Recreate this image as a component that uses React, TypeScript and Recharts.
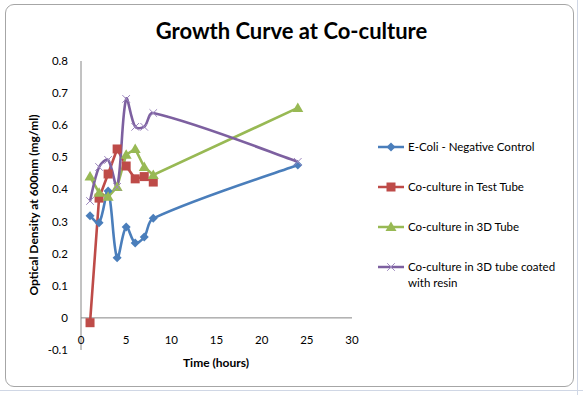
import React from "react";
import { Line, LineChart, ReferenceLine, XAxis, YAxis } from "recharts";

// values
const hours = [1, 2, 3, 4, 5, 6, 7, 8, 24];
const eColi = [0.318, 0.296, 0.395, 0.187, 0.283, 0.233, 0.252, 0.31, 0.476];
const testTube = [-0.015, 0.373, 0.448, 0.526, 0.473, 0.433, 0.44, 0.423];
const tube3d = [0.44, 0.39, 0.377, 0.408, 0.508, 0.526, 0.47, 0.445, 0.654];
const resinTube = [0.364, 0.47, 0.492, 0.408, 0.682, 0.595, 0.595, 0.638, 0.486];

const xTicks = [0, 5, 10, 15, 20, 25, 30];
const yTicks = [-0.1, 0, 0.1, 0.2, 0.3, 0.4, 0.5, 0.6, 0.7, 0.8];

const FONT = "Lato, 'Open Sans', sans-serif";

type Shape = "diamond" | "square" | "triangle" | "cross";

const series: {
  name: string;
  values: number[];
  color: string;
  shape: Shape;
  smooth: boolean;
}[] = [
  { name: "E-Coli - Negative Control", values: eColi, color: "#4A7EBB", shape: "diamond", smooth: true },
  { name: "Co-culture in Test Tube", values: testTube, color: "#BE4B48", shape: "square", smooth: false },
  { name: "Co-culture in 3D Tube", values: tube3d, color: "#98B954", shape: "triangle", smooth: false },
  { name: "Co-culture in 3D tube coated with resin", values: resinTube, color: "#7D60A0", shape: "cross", smooth: true },
];

const toRows = (values: number[]) => values.map((v, i) => ({ x: hours[i], y: v }));

// Excel-like smoothing: bezier whose tangents are weighted by chord length (no loops)
function excelSmooth(context: any) {
  let pts: [number, number][] = [];
  const dist = (a: [number, number], b: [number, number]) => Math.hypot(b[0] - a[0], b[1] - a[1]);
  return {
    areaStart() {},
    areaEnd() {},
    lineStart() {
      pts = [];
    },
    point(x: number, y: number) {
      pts.push([+x, +y]);
    },
    lineEnd() {
      if (!pts.length) return;
      context.moveTo(pts[0][0], pts[0][1]);
      for (let i = 0; i < pts.length - 1; i++) {
        const p0 = pts[i - 1] || pts[i];
        const p1 = pts[i];
        const p2 = pts[i + 1];
        const p3 = pts[i + 2] || p2;
        const d01 = dist(p0, p1);
        const d12 = dist(p1, p2);
        const d23 = dist(p2, p3);
        const k1 = d01 + d12 > 0 ? d12 / (d01 + d12) / 3 : 0;
        const k2 = d12 + d23 > 0 ? d12 / (d12 + d23) / 3 : 0;
        const s1 = p0 === p1 ? 2 : 1;
        const s2 = p3 === p2 ? 2 : 1;
        context.bezierCurveTo(
          p1[0] + (p2[0] - p0[0]) * k1 * (s1 === 2 ? 0.5 : 1),
          p1[1] + (p2[1] - p0[1]) * k1 * (s1 === 2 ? 0.5 : 1),
          p2[0] - (p3[0] - p1[0]) * k2 * (s2 === 2 ? 0.5 : 1),
          p2[1] - (p3[1] - p1[1]) * k2 * (s2 === 2 ? 0.5 : 1),
          p2[0],
          p2[1]
        );
      }
    },
  };
}

function Marker({ cx, cy, shape, color }: { cx: number; cy: number; shape: Shape; color: string }) {
  if (cx == null || cy == null) return null;
  if (shape === "diamond") {
    const r = 4.5;
    return <polygon points={`${cx},${cy - r} ${cx + r},${cy} ${cx},${cy + r} ${cx - r},${cy}`} fill={color} />;
  }
  if (shape === "square") {
    return <rect x={cx - 4.5} y={cy - 4.5} width={9} height={9} fill={color} />;
  }
  if (shape === "triangle") {
    return <polygon points={`${cx},${cy - 5.5} ${cx + 5.5},${cy + 4} ${cx - 5.5},${cy + 4}`} fill={color} />;
  }
  const r = 3.8;
  return (
    <g stroke="#9c86bd" strokeWidth={1}>
      <line x1={cx - r} y1={cy - r} x2={cx + r} y2={cy + r} />
      <line x1={cx - r} y1={cy + r} x2={cx + r} y2={cy - r} />
    </g>
  );
}

function XTick({ x, y, payload }: any) {
  return (
    <text x={x} y={y - 6} textAnchor="middle" fontSize={11.5} fontFamily={FONT} fill="#000">
      {payload.value}
    </text>
  );
}

function YTick({ x, y, payload }: any) {
  const v = payload.value;
  const label = Math.abs(v) < 1e-9 ? "0" : v.toFixed(1);
  return (
    <text x={x - 13} y={y + 4} textAnchor="end" fontSize={11.5} fontFamily={FONT} fill="#000">
      {label}
    </text>
  );
}

function LegendBox() {
  return (
    <div
      style={{
        position: "absolute",
        left: 377,
        top: 140,
        width: 200,
        fontFamily: FONT,
        fontSize: 11.5,
        color: "#000",
      }}
    >
      {series.map((s) => (
        <div key={s.name} style={{ display: "flex", alignItems: "flex-start", height: 40 }}>
          <svg width={28} height={14} style={{ flex: "none" }}>
            <line x1={1} y1={7} x2={27} y2={7} stroke={s.color} strokeWidth={2.5} />
            <Marker cx={14} cy={7} shape={s.shape} color={s.color} />
          </svg>
          <span style={{ marginLeft: 3, lineHeight: "16px", marginTop: -1, width: 165 }}>{s.name}</span>
        </div>
      ))}
    </div>
  );
}

export default function App() {
  return (
    <div style={{ position: "absolute", left: 0, top: 0, width: 583, height: 395, background: "#fff", overflow: "hidden" }}>
      {/* spreadsheet cell lines behind the chart */}
      <div style={{ position: "absolute", left: 577, top: 0, width: 1, height: 395, background: "#d0d7e5" }} />
      <div style={{ position: "absolute", left: 0, top: 390, width: 583, height: 1, background: "#d0d7e5" }} />
      <div
        style={{
          position: "absolute",
          left: 5,
          top: 4,
          width: 567,
          height: 381,
          border: "1px solid #a6a6a6",
          borderRadius: 9,
          background: "#fff",
        }}
      />
      <div
        style={{
          position: "absolute",
          left: 0,
          top: 16,
          width: 583,
          textAlign: "center",
          fontFamily: FONT,
          fontWeight: 700,
          fontSize: 22,
          lineHeight: "30px",
          color: "#000",
        }}
      >
        Growth Curve at Co-culture
      </div>
      <div
        style={{
          position: "absolute",
          left: 33,
          top: 205,
          transform: "translate(-50%, -50%) rotate(-90deg)",
          whiteSpace: "nowrap",
          fontFamily: FONT,
          fontWeight: 700,
          fontSize: 12,
          color: "#000",
        }}
      >
        Optical Density at 600nm (mg/ml)
      </div>
      <div
        style={{
          position: "absolute",
          left: 216,
          top: 362,
          transform: "translate(-50%, -50%)",
          whiteSpace: "nowrap",
          fontFamily: FONT,
          fontWeight: 700,
          fontSize: 12,
          color: "#000",
        }}
      >
        Time (hours)
      </div>
      <div style={{ position: "absolute", left: 0, top: 0 }}>
        <LineChart width={583} height={395} margin={{ top: 61, right: 231, bottom: 44, left: 0 }}>
          <XAxis
            type="number"
            dataKey="x"
            domain={[0, 30]}
            ticks={xTicks}
            interval={0}
            axisLine={false}
            tickLine={false}
            tickSize={0}
            tickMargin={0}
            tick={<XTick />}
            height={1}
          />
          <YAxis
            type="number"
            dataKey="y"
            domain={[-0.1, 0.8]}
            ticks={yTicks}
            interval={0}
            width={81}
            axisLine={{ stroke: "#868686", strokeWidth: 1 }}
            tickLine={false}
            tickSize={0}
            tickMargin={0}
            tick={<YTick />}
          />
          <ReferenceLine y={0} stroke="#868686" strokeWidth={1} />
          {series.map((s) => (
            <Line
              key={s.name}
              name={s.name}
              data={toRows(s.values)}
              dataKey="y"
              type={s.smooth ? (excelSmooth as any) : "linear"}
              stroke={s.color}
              strokeWidth={2.6}
              isAnimationActive={false}
              dot={(p: any) => <Marker key={`${s.name}-${p.index}`} cx={p.cx} cy={p.cy} shape={s.shape} color={s.color} />}
              activeDot={false}
            />
          ))}
        </LineChart>
      </div>
      <LegendBox />
    </div>
  );
}
